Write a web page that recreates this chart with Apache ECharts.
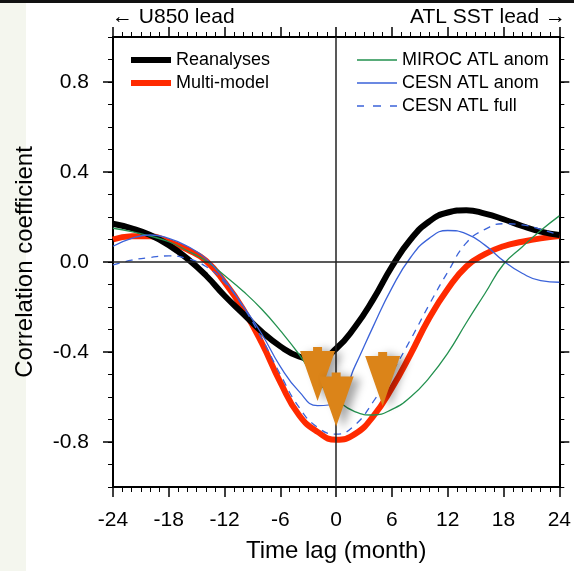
<!DOCTYPE html>
<html>
<head>
<meta charset="utf-8">
<script src="https://cdn.jsdelivr.net/npm/echarts@6/dist/echarts.min.js"></script>
<style>
  html, body { margin: 0; padding: 0; background: #fff; }
  #chart { width: 574px; height: 571px; }
</style>
</head>
<body>
<div id="chart"></div>
<script>
// lag in months, every 2 months
const lags = [-24,-22,-20,-18,-16,-14,-12,-10,-8,-6,-4,-2,0,2,4,6,8,10,12,14,16,18,20,22,24];

const reanalyses = [0.17,0.15,0.12,0.075,0.015,-0.06,-0.15,-0.23,-0.31,-0.375,-0.42,-0.435,-0.385,-0.29,-0.165,-0.02,0.1,0.18,0.22,0.23,0.215,0.19,0.16,0.135,0.12];
const multiModel = [0.10,0.115,0.115,0.09,0.055,0.005,-0.09,-0.21,-0.36,-0.535,-0.68,-0.755,-0.79,-0.765,-0.685,-0.56,-0.41,-0.25,-0.12,-0.02,0.035,0.07,0.09,0.105,0.115];
const mirocAnom = [0.15,0.135,0.115,0.09,0.05,0.005,-0.06,-0.13,-0.21,-0.305,-0.41,-0.53,-0.61,-0.665,-0.68,-0.655,-0.6,-0.515,-0.405,-0.27,-0.14,-0.01,0.067,0.14,0.205];
const cesnAnom = [0.07,0.105,0.12,0.105,0.07,0.015,-0.08,-0.196,-0.32,-0.465,-0.575,-0.638,-0.63,-0.465,-0.285,-0.115,0.02,0.105,0.14,0.125,0.075,0.005,-0.05,-0.083,-0.09];
const cesnFull = [-0.013,0.008,0.02,0.027,0.015,-0.02,-0.09,-0.2,-0.34,-0.5,-0.645,-0.735,-0.765,-0.725,-0.62,-0.49,-0.345,-0.19,-0.045,0.085,0.145,0.17,0.165,0.145,0.12];

// orange markers (lag, correlation)
const markerLags = [-2, 0, 5];
const markerVals = [-0.498, -0.611, -0.52];

const yMajor = [-0.8, -0.4, 0, 0.4, 0.8];

function pairs(xs, ys) {
  return xs.map((x, i) => [x, ys[i]]);
}

const FONT = 'Liberation Sans, Arial, Helvetica, sans-serif';
const triPath = 'path://M13,0 L22,0 L22,4 L35,4 L17.5,54 L0,4 L13,4 Z';
// legend icons, 40x14 box
const thickIcon = 'path://M0,0 L0.01,0 L0,0.01 Z M0,4 H40 V10 H0 Z M0,14 L0.01,14 L0,13.99 Z';
const thinIcon = 'path://M0,0 L0.01,0 L0,0.01 Z M0,6.3 H40 V7.7 H0 Z M0,14 L0.01,14 L0,13.99 Z';
const dashIcon = 'path://M0,0 L0.01,0 L0,0.01 Z M0,6.3 H7 V7.7 H0 Z M16,6.3 H24 V7.7 H16 Z M33,6.3 H40 V7.7 H33 Z M0,14 L0.01,14 L0,13.99 Z';

const chart = echarts.init(document.getElementById('chart'));

const xBase = {
  type: 'value', min: -24, max: 24, interval: 6,
  axisLine: { show: true, onZero: false, lineStyle: { color: '#000', width: 2 } },
  axisTick: { show: true, length: 10, lineStyle: { color: '#000', width: 1.5 } },
  minorTick: { show: true, splitNumber: 6, length: 5, lineStyle: { color: '#000', width: 1 } },
  splitLine: { show: false }
};

function yMinor(pos) {
  return {
    type: 'value', min: -1, max: 1, interval: 0.1, position: pos,
    axisLine: { show: true, onZero: false, lineStyle: { color: '#000', width: 2 } },
    axisTick: { show: true, length: 5, lineStyle: { color: '#000', width: 1 } },
    axisLabel: { show: false },
    splitLine: { show: false }
  };
}
function yMaj(pos, labels) {
  return {
    type: 'value', min: -1, max: 1, position: pos,
    axisLine: { show: false, onZero: false },
    axisTick: { show: true, length: 10, customValues: yMajor, lineStyle: { color: '#000', width: 1.5 } },
    axisLabel: {
      show: labels, customValues: yMajor, margin: 24,
      color: '#000', fontSize: 21, fontFamily: FONT,
      formatter: v => v.toFixed(1)
    },
    splitLine: { show: false }
  };
}

function thin(name, data, color, type) {
  return {
    name: name, type: 'line', data: pairs(lags, data), smooth: true,
    symbol: 'none', z: 4,
    lineStyle: { color: color, width: 1.3, type: type || 'solid' },
    itemStyle: { color: color }
  };
}

const legendText = { fontSize: 18, fontFamily: FONT, color: '#000', lineHeight: 18 };

const option = {
  backgroundColor: '#fff',
  animation: false,
  grid: { left: 113, right: 11, top: 37, bottom: 84 },
  graphic: [
    { type: 'rect', z: -10, shape: { x: 0, y: 0, width: 26, height: 571 }, style: { fill: '#f4f6ee' } },
    { type: 'rect', shape: { x: 0, y: 0, width: 574, height: 3 }, style: { fill: '#111' } },
    { type: 'text', left: 112, top: 7, style: { text: '\u2190 U850 lead', font: '21px ' + FONT, fill: '#000' } },
    { type: 'text', right: 8, top: 7, style: { text: 'ATL SST lead \u2192', font: '21px ' + FONT, fill: '#000' } }
  ],
  legend: [
    {
      data: [
        { name: 'Reanalyses', icon: thickIcon },
        { name: 'Multi-model', icon: thickIcon }
      ],
      orient: 'vertical', left: 126, top: 46,
      itemWidth: 40, itemHeight: 14, itemGap: 5,
      textStyle: legendText, selectedMode: false
    },
    {
      data: [
        { name: 'MIROC ATL anom', icon: thinIcon },
        { name: 'CESN ATL anom', icon: thinIcon },
        { name: 'CESN ATL full', icon: dashIcon }
      ],
      orient: 'vertical', left: 352, top: 46,
      itemWidth: 40, itemHeight: 14, itemGap: 5,
      textStyle: legendText, selectedMode: false
    }
  ],
  xAxis: [
    Object.assign({}, xBase, {
      position: 'bottom',
      axisLabel: { show: true, margin: 23, color: '#000', fontSize: 21, fontFamily: FONT },
      name: 'Time lag (month)', nameLocation: 'middle', nameGap: 52,
      nameTextStyle: { color: '#000', fontSize: 24, fontFamily: FONT }
    }),
    Object.assign({}, xBase, { position: 'top', axisLabel: { show: false } })
  ],
  yAxis: [
    Object.assign(yMinor('left'), {
      name: 'Correlation coefficient', nameLocation: 'middle', nameGap: 76,
      nameTextStyle: { color: '#000', fontSize: 24, fontFamily: FONT }
    }),
    yMaj('left', true),
    yMinor('right'),
    yMaj('right', false)
  ],
  series: [
    {
      type: 'line', data: [], silent: true, z: 1,
      markLine: {
        silent: true, symbol: 'none', label: { show: false },
        lineStyle: { color: '#222', width: 1.5, type: 'solid' },
        data: [{ yAxis: 0 }, { xAxis: 0 }]
      }
    },
    {
      name: 'Multi-model', type: 'line', data: pairs(lags, multiModel), smooth: true,
      symbol: 'none', z: 2,
      lineStyle: { color: '#ff2a00', width: 6 }, itemStyle: { color: '#ff2a00' }
    },
    {
      name: 'Reanalyses', type: 'line', data: pairs(lags, reanalyses), smooth: true,
      symbol: 'none', z: 3,
      lineStyle: { color: '#000', width: 6 }, itemStyle: { color: '#000' }
    },
    thin('MIROC ATL anom', mirocAnom, '#23914f'),
    thin('CESN ATL anom', cesnAnom, '#3b63d9'),
    thin('CESN ATL full', cesnFull, '#3b63d9', [7, 6]),
    {
      type: 'scatter', data: pairs(markerLags, markerVals), z: 10,
      symbol: triPath, symbolSize: [35, 54],
      itemStyle: {
        color: '#db8419', opacity: 1,
        shadowColor: 'rgba(0,0,0,0.35)', shadowBlur: 8, shadowOffsetX: 7, shadowOffsetY: 2
      }
    }
  ]
};

chart.setOption(option);
</script>
</body>
</html>
